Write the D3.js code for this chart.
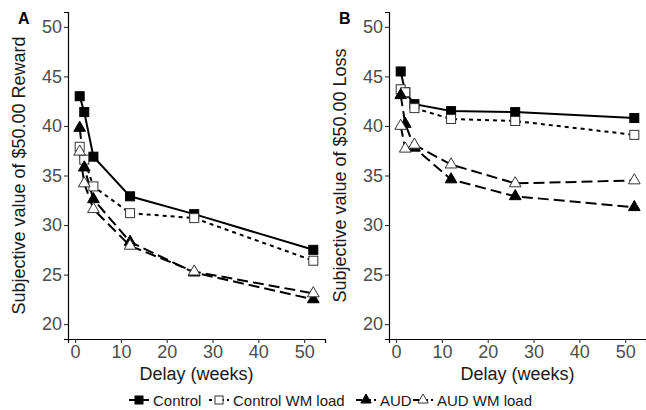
<!DOCTYPE html>
<html>
<head>
<meta charset="utf-8">
<script src="https://cdn.jsdelivr.net/npm/d3@7"></script>
<style>
  body { margin: 0; background: #fff; }
  text { font-family: "Liberation Sans", Arial, sans-serif; font-weight: normal; }
</style>
</head>
<body>
<div id="chart"></div>
<script>
// delays in weeks
const delays = [1, 2, 4, 12, 26, 52];
const groups = ["Control", "Control WM load", "AUD", "AUD WM load"];

// panel A: reward
const rewardControl = [43.0, 41.4, 36.9, 32.9, 31.1, 27.5];
const rewardControlWM = [37.9, 36.6, 33.9, 31.2, 30.7, 26.4];
const rewardAUD = [39.8, 35.8, 32.6, 28.3, 25.2, 22.5];
const rewardAUDWM = [37.4, 34.2, 31.6, 27.9, 25.3, 23.1];

// panel B: loss
const lossControl = [45.5, 43.4, 42.2, 41.5, 41.4, 40.8];
const lossControlWM = [43.7, 43.4, 41.8, 40.7, 40.5, 39.1];
const lossAUD = [43.1, 40.2, 37.8, 34.6, 32.9, 31.8];
const lossAUDWM = [40.0, 37.7, 38.1, 36.1, 34.2, 34.5];

const yTicks = [20, 25, 30, 35, 40, 45, 50];
const xTicks = [0, 10, 20, 30, 40, 50];

const width = 646, height = 410;
const svg = d3.select("#chart").append("svg")
    .attr("width", width)
    .attr("height", height);

// style per group
const styles = {
    "Control": { dash: null, legendDash: null, shape: "square", fill: "#000" },
    "Control WM load": { dash: "4,4", legendDash: "3,3", shape: "square", fill: "#fff" },
    "AUD": { dash: "11,5", legendDash: "6,3", shape: "triangle", fill: "#000" },
    "AUD WM load": { dash: "11,5", legendDash: "6,3", shape: "triangle", fill: "#fff" }
};

function drawMarker(g, cx, cy, st, size) {
    const stroke = st.fill === "#000" ? "#000" : "#333";
    if (st.shape === "square") {
        const s = size;
        g.append("rect")
            .attr("x", cx - s / 2).attr("y", cy - s / 2)
            .attr("width", s).attr("height", s)
            .attr("fill", st.fill)
            .attr("stroke", stroke)
            .attr("stroke-width", 1);
    } else {
        const s = size * 1.3, h = s * Math.sqrt(3) / 2;
        const pts = [[cx, cy - h * 2 / 3], [cx - s / 2, cy + h / 3], [cx + s / 2, cy + h / 3]];
        g.append("polygon")
            .attr("points", pts.map(p => p.join(",")).join(" "))
            .attr("fill", st.fill)
            .attr("stroke", stroke)
            .attr("stroke-width", 1);
    }
}

function drawPanel(left, right, label, yTitle, series) {
    const x = d3.scaleLinear().domain([-1.55, 54.55]).range([left, right]);
    const y = d3.scaleLinear().domain([18.5, 51.5]).range([339, 12]);
    const g = svg.append("g");

    // axes
    const yAxis = g.append("g")
        .attr("transform", `translate(${left},0)`)
        .call(d3.axisLeft(y).tickValues(yTicks).tickSize(4).tickPadding(2));
    const xAxis = g.append("g")
        .attr("transform", `translate(0,339)`)
        .call(d3.axisBottom(x).tickValues(xTicks).tickSize(4).tickPadding(2));
    [yAxis, xAxis].forEach(a => {
        a.select(".domain").attr("stroke", "#000").attr("stroke-width", 1.2);
        a.selectAll(".tick line").attr("stroke", "#333").attr("stroke-width", 1.1);
        a.selectAll(".tick text").attr("fill", "#4d4d4d").style("font-size", "18px")
            .style("font-family", "Liberation Sans, Arial, sans-serif");
        a.attr("font-size", null);
    });

    // titles
    g.append("text")
        .attr("x", (left + right) / 2).attr("y", 380)
        .attr("text-anchor", "middle")
        .attr("fill", "#1a1a1a")
        .style("font-size", "18px")
        .text("Delay (weeks)");
    g.append("text")
        .attr("transform", `translate(${left - 43},${(12 + 339) / 2}) rotate(-90)`)
        .attr("text-anchor", "middle")
        .attr("fill", "#1a1a1a")
        .style("font-size", "18px")
        .text(yTitle);
    g.append("text")
        .attr("x", left - 50).attr("y", 24)
        .style("font-size", "16px")
        .style("font-weight", "bold")
        .text(label);

    const line = d3.line().x((d, i) => x(delays[i])).y(d => y(d));

    // lines first, then points
    groups.forEach((grp, k) => {
        const st = styles[grp];
        g.append("path")
            .datum(series[k])
            .attr("d", line)
            .attr("fill", "none")
            .attr("stroke", "#000")
            .attr("stroke-width", 2)
            .attr("stroke-dasharray", st.dash);
    });
    groups.forEach((grp, k) => {
        const st = styles[grp];
        series[k].forEach((v, i) => drawMarker(g, x(delays[i]), y(v), st, 9));
    });
}

drawPanel(68, 325, "A", "Subjective value of $50.00 Reward",
    [rewardControl, rewardControlWM, rewardAUD, rewardAUDWM]);
drawPanel(389, 646, "B", "Subjective value of $50.00 Loss",
    [lossControl, lossControlWM, lossAUD, lossAUDWM]);

// legend
const legendItems = [
    { name: "Control", kx: 129 },
    { name: "Control WM load", kx: 209 },
    { name: "AUD", kx: 356 },
    { name: "AUD WM load", kx: 413 }
];
const lg = svg.append("g");
legendItems.forEach(item => {
    const st = styles[item.name];
    const ly = 400;
    lg.append("line")
        .attr("x1", item.kx).attr("x2", item.kx + 20)
        .attr("y1", ly).attr("y2", ly)
        .attr("stroke", "#000").attr("stroke-width", 2)
        .attr("stroke-dasharray", st.legendDash);
    drawMarker(lg, item.kx + 10, ly, st, 8);
    lg.append("text")
        .attr("x", item.kx + 24).attr("y", ly + 5.5)
        .attr("fill", "#1a1a1a")
        .style("font-size", "15px")
        .text(item.name);
});
</script>
</body>
</html>
